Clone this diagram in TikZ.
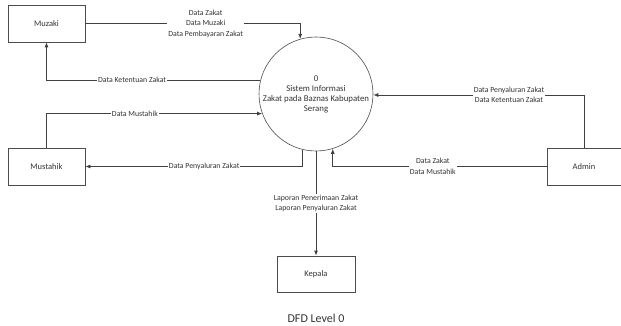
\documentclass[tikz,border=0pt]{standalone}
\usepackage{fontspec}
\setmainfont{Carlito}
\usetikzlibrary{arrows.meta}
\begin{document}
\begin{tikzpicture}[x=1pt,y=-1pt,
  ent/.style={draw=black!70,line width=0.8pt,minimum width=77pt,minimum height=37pt,inner sep=0pt,font=\fontsize{8.5}{10}\selectfont,text=black!80},
  proc/.style={draw=black!70,line width=0.6pt,circle,minimum size=114pt,inner sep=0pt,align=center,font=\fontsize{8.8}{10}\selectfont,text=black!80},
  flow/.style={draw=black!75,line width=0.8pt,-{Latex[length=5pt,width=4pt]}},
  lbl/.style={fill=white,inner sep=1pt,align=center,font=\fontsize{7.8}{10.5}\selectfont,text=black!80}]
\useasboundingbox (0,0) rectangle (621,326);
\node[ent] (muzaki) at (46.5,23.5) {Muzaki};
\node[ent] (mustahik) at (46.5,166.5) {Mustahik};
\node[ent,minimum width=78pt,minimum height=36pt] (kepala) at (316,274) {Kepala};
\node[ent,minimum width=74pt] (admin) at (584,166.5) {Admin};
\node[proc] (sys) at (316,94) {0\\Sistem Informasi\\Zakat pada Baznas Kabupaten\\Serang};
\node[font=\fontsize{12}{14}\selectfont,text=black!80] (title) at (316,318) {DFD Level 0};

\draw[flow] (muzaki.east) -| (sys.106) node[lbl,pos=0.28] {Data Zakat\\Data Muzaki\\Data Pembayaran Zakat};
\draw[flow] (sys.166) -| (muzaki.south) node[lbl,pos=0.3] {Data Ketentuan Zakat};
\draw[flow] (mustahik.north) |- (sys.200) node[lbl,pos=0.705] {Data Mustahik};
\draw[flow] (sys.256) |- (mustahik.east) node[lbl,pos=0.726] {Data Penyaluran Zakat};
\draw[flow] (sys.south) -- (kepala.north) node[lbl,pos=0.5] {Laporan Penerimaan Zakat\\Laporan Penyaluran Zakat};
\draw[flow] (admin.west) -| (sys.287) node[lbl,pos=0.266] {Data Zakat\\Data Mustahik};
\draw[flow] (admin.north) |- (sys.359) node[lbl,pos=0.678] {Data Penyaluran Zakat\\Data Ketentuan Zakat};
\end{tikzpicture}
\end{document}
